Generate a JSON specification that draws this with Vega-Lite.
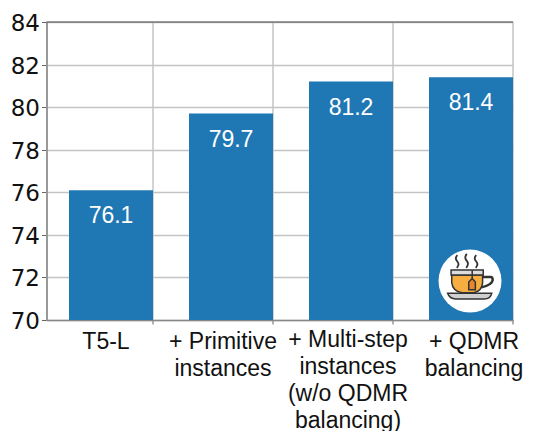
{
"$schema":"https://vega.github.io/schema/vega-lite/v6.json",
"width":466.5,"height":298,
"autosize":{"type":"none"},
"padding":{"left":46.5,"top":22,"right":21,"bottom":111},
"background":"white",
"config":{"view":{"stroke":null}},
"datasets":{
"main":[{"category":"T5-L","value":76.1},{"category":"+ Primitive\ninstances","value":79.7},{"category":"+ Multi-step\ninstances\n(w/o QDMR\nbalancing)","value":81.2},{"category":"+ QDMR\nbalancing","value":81.4}],
"icon":[{"category":"+ QDMR\nbalancing","value":71.83}]
},
"encoding":{
"x":{"field":"category","type":"nominal","sort":null,"title":null,
"scale":{"paddingInner":0.3,"paddingOuter":0.09375,"align":1},
"axis":{"bandPosition":1,
"labelOffset":{"condition":[{"test":"indexof(datum.value,'Primitive')>=0","value":-8},{"test":"indexof(datum.value,'QDMR')==2","value":3},{"test":"indexof(datum.value,'Multi')>=0","value":-3}],"value":-5},
"labelAngle":0,"labelFont":"Liberation Sans","labelFontSize":23,"labelColor":"#111","labelLineHeight":27,"labelExpr":"split(datum.label,'\\n')","labelPadding":4,"labelLimit":200,
"labelBaseline":{"condition":{"test":"indexof(datum.value,'Multi')>=0","value":"top"},"value":"line-top"},
"tickColor":"#666","tickSize":4,"tickWidth":1,"grid":true,"gridColor":"#c4c4c4","gridWidth":1.5,"domainColor":"#888","domainWidth":1.5,"zindex":0}},
"y":{"field":"value","type":"quantitative","title":null,
"scale":{"domain":[70,84],"nice":false,"zero":false},
"axis":{"values":[70,72,74,76,78,80,82,84],"labelFont":"DejaVu Sans","labelFontSize":23,"labelColor":"#111","labelPadding":2,"labelOffset":1.5,"tickColor":"#666","tickSize":5,"tickWidth":1,"grid":true,"gridColor":"#c4c4c4","gridWidth":1.5,"domainColor":"#999","domainWidth":2,"zindex":0}}
},
"layer":[
{"data":{"name":"main"},"mark":{"type":"bar","color":"#1f77b4","clip":true}},
{"data":{"name":"main"},"mark":{"type":"text","color":"white","font":"Liberation Sans","fontSize":23,"baseline":"middle","dy":26},"encoding":{"text":{"field":"value","type":"quantitative","format":".1f"}}},
{"data":{"values":[{"top":84}]},"mark":{"type":"rule","color":"#444","strokeWidth":1},"encoding":{"x":{"value":0},"x2":{"value":466.5},"y":{"field":"top","type":"quantitative"}}},
{"data":{"name":"icon"},"mark":{"type":"point","xOffset":-1,"filled":true,"fill":"white","size":3969,"opacity":1,"shape":"circle"}},
{"data":{"name":"icon"},"mark":{"type":"point","xOffset":-1,"filled":true,"fill":"#cfcfcf","stroke":"#333","strokeWidth":1.5,"size":3969,"opacity":1,"shape":"M-0.71 0.39 L0.69 0.39 Q0.65 0.57 0.45 0.57 L-0.45 0.57 Q-0.65 0.57 -0.71 0.39 Z"}},
{"data":{"name":"icon"},"mark":{"type":"point","xOffset":-1,"filled":false,"stroke":"#333","strokeWidth":2.5,"size":3969,"opacity":1,"shape":"M0.4 -0.13 L0.66 -0.13 Q0.72 -0.13 0.72 -0.03 Q0.7 0.12 0.36 0.2"}},
{"data":{"name":"icon"},"mark":{"type":"point","xOffset":-1,"filled":true,"fill":"#f5ae3f","stroke":"#333","strokeWidth":1.5,"size":3969,"opacity":1,"shape":"M-0.58 -0.19 L0.4 -0.19 L0.4 0.05 Q0.38 0.32 0.12 0.37 L-0.26 0.37 Q-0.55 0.32 -0.58 0.05 Z"}},
{"data":{"name":"icon"},"mark":{"type":"point","xOffset":-1,"filled":true,"fill":"#dcdcdc","stroke":"#333","strokeWidth":1.5,"size":3969,"opacity":1,"shape":"M-0.6 -0.35 L0.42 -0.35 L0.42 -0.19 L-0.6 -0.19 Z"}},
{"data":{"name":"icon"},"mark":{"type":"point","xOffset":-1,"filled":true,"fill":"#e8862f","stroke":"#333","strokeWidth":1.5,"size":3969,"opacity":1,"shape":"M0.07 -0.08 L0.17 0.03 L0.17 0.28 L-0.04 0.28 L-0.04 0.03 Z"}},
{"data":{"name":"icon"},"mark":{"type":"point","xOffset":-1,"filled":false,"stroke":"#333","strokeWidth":1.5,"size":3969,"opacity":1,"shape":"M0.07 -0.35 L0.07 -0.08"}},
{"data":{"name":"icon"},"mark":{"type":"point","xOffset":-1,"filled":false,"stroke":"#333","strokeWidth":1.8,"size":3969,"opacity":1,"shape":"M-0.4 -0.82 Q-0.5 -0.72 -0.4 -0.62 Q-0.32 -0.52 -0.42 -0.42 M-0.1 -0.86 Q-0.2 -0.75 -0.1 -0.64 Q-0.02 -0.54 -0.12 -0.42 M0.2 -0.82 Q0.1 -0.72 0.2 -0.62 Q0.28 -0.52 0.18 -0.42"}}
]
}
